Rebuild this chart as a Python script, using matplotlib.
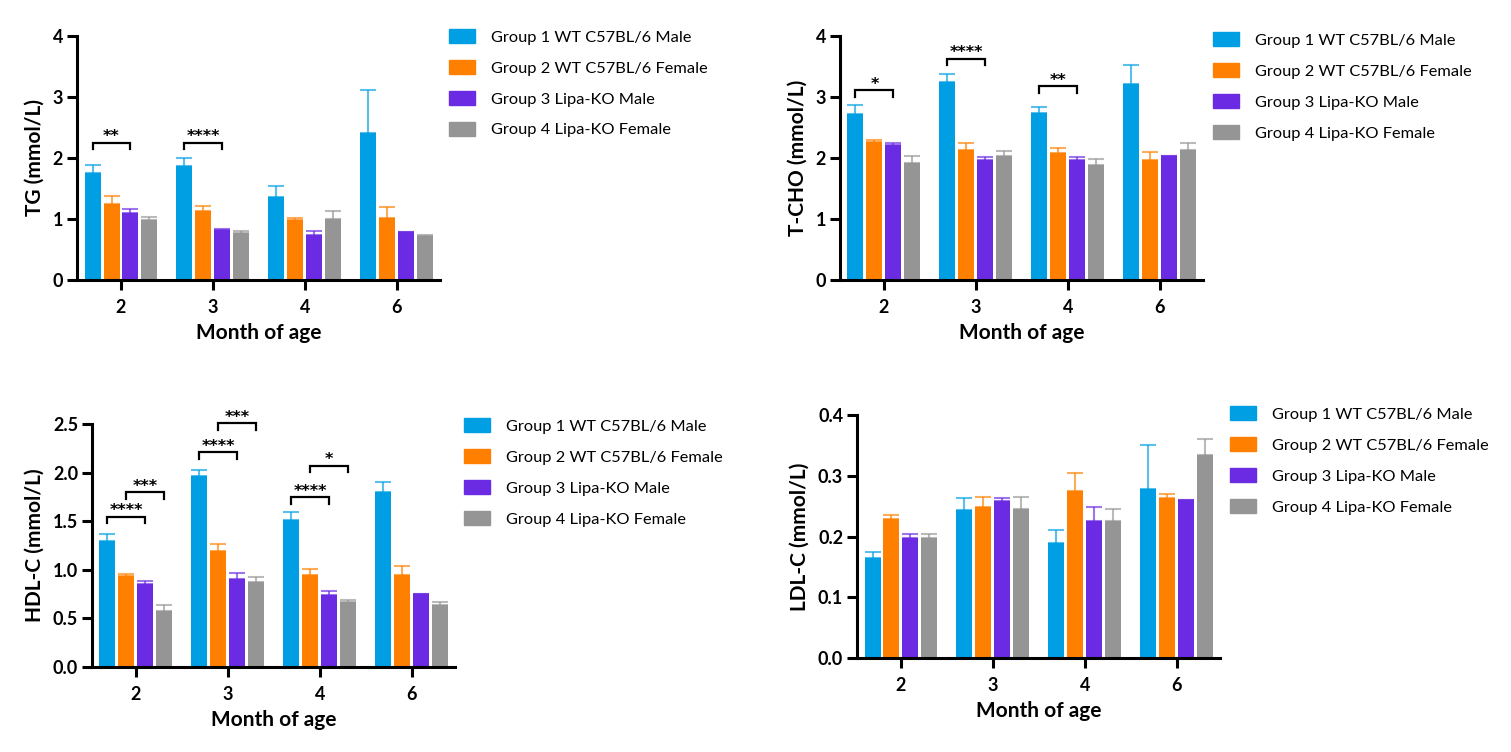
import matplotlib
matplotlib.use('Agg')
import matplotlib.pyplot as plt
from matplotlib.patches import Patch
import numpy as np

plt.rcParams['font.family'] = ['Lato', 'DejaVu Sans']

months = ['2', '3', '4', '6']
groups = ['Group 1 WT C57BL/6 Male', 'Group 2 WT C57BL/6 Female',
          'Group 3 Lipa-KO Male', 'Group 4 Lipa-KO Female']
colors = ['#009FE3', '#FF8000', '#6A2BE3', '#959595']

# mean values per group (rows) and month (columns), upper error bar tops
tg_mean = [[1.75, 1.87, 1.36, 2.41],
           [1.25, 1.13, 0.98, 1.02],
           [1.10, 0.82, 0.74, 0.79],
           [0.98, 0.77, 1.00, 0.72]]
tg_top = [[1.89, 2.00, 1.54, 3.12],
          [1.37, 1.22, 1.02, 1.19],
          [1.16, 0.84, 0.80, 0.79],
          [1.03, 0.81, 1.13, 0.73]]

tcho_mean = [[2.72, 3.24, 2.73, 3.21],
             [2.26, 2.13, 2.08, 1.96],
             [2.21, 1.96, 1.96, 2.03],
             [1.91, 2.03, 1.88, 2.13]]
tcho_top = [[2.87, 3.37, 2.84, 3.53],
            [2.30, 2.25, 2.17, 2.09],
            [2.25, 2.01, 2.02, 2.03],
            [2.03, 2.12, 1.98, 2.25]]

hdl_mean = [[1.30, 1.97, 1.51, 1.80],
            [0.94, 1.19, 0.95, 0.95],
            [0.85, 0.91, 0.74, 0.75],
            [0.58, 0.87, 0.67, 0.64]]
hdl_top = [[1.37, 2.03, 1.59, 1.90],
           [0.96, 1.27, 1.01, 1.04],
           [0.88, 0.97, 0.78, 0.75],
           [0.64, 0.93, 0.69, 0.67]]

ldl_mean = [[0.164, 0.243, 0.189, 0.279],
            [0.229, 0.248, 0.275, 0.263],
            [0.197, 0.258, 0.225, 0.260],
            [0.197, 0.245, 0.226, 0.334]]
ldl_top = [[0.175, 0.264, 0.211, 0.350],
           [0.236, 0.265, 0.304, 0.270],
           [0.204, 0.264, 0.249, 0.260],
           [0.204, 0.265, 0.246, 0.360]]

# significance brackets: (month index, group a, group b, height, label)
tg_sig = [(0, 0, 2, 2.25, '**'), (1, 0, 2, 2.25, '****')]
tcho_sig = [(0, 0, 2, 3.11, '*'), (1, 0, 2, 3.63, '****'), (2, 0, 2, 3.18, '**')]
hdl_sig = [(0, 0, 2, 1.545, '****'), (0, 1, 3, 1.80, '***'),
           (1, 0, 2, 2.21, '****'), (1, 1, 3, 2.51, '***'),
           (2, 0, 2, 1.75, '****'), (2, 1, 3, 2.07, '*')]
ldl_sig = []

step = 0.2065
width = 0.174


def panel(rect, mean, top, ylabel, ymax, yticks, ylabels, sig, leg_xy):
    ax = fig.add_axes(rect)
    x = np.arange(len(months))
    for i in range(4):
        pos = x + (i - 1.5) * step
        m = np.array(mean[i])
        err = np.array(top[i]) - m
        ax.bar(pos, m, width, color=colors[i], zorder=2)
        ax.errorbar(pos, m, yerr=[np.zeros_like(err), err], fmt='none',
                    ecolor=colors[i], alpha=0.65, elinewidth=1.5,
                    capsize=5.5, capthick=1.5, zorder=1)
    leg = 0.027 * ymax
    for mi, a, b, h, lab in sig:
        xa = mi + (a - 1.5) * step
        xb = mi + (b - 1.5) * step
        ax.plot([xa, xa, xb, xb], [h - leg, h, h, h - leg], color='black',
                lw=1.6, clip_on=False, solid_joinstyle='miter')
        ax.annotate(lab, ((xa + xb) / 2, h), xytext=(0, 1),
                    textcoords='offset points', ha='center', va='baseline',
                    fontsize=11.5, fontweight='bold', family='DejaVu Sans',
                    annotation_clip=False)
    ax.set_xlim(-0.478, 3.47)
    ax.set_ylim(0, ymax)
    ax.set_xticks(x)
    ax.set_xticklabels(months, fontsize=13, fontweight='bold')
    ax.set_yticks(yticks)
    ax.set_yticklabels(ylabels, fontsize=13, fontweight='bold')
    ax.set_xlabel('Month of age', fontsize=15, fontweight='bold', labelpad=5)
    ax.set_ylabel(ylabel, fontsize=15, fontweight='bold', labelpad=6)
    for s in ['top', 'right']:
        ax.spines[s].set_visible(False)
    for s in ['left', 'bottom']:
        ax.spines[s].set_linewidth(2.2)
    ax.tick_params(width=2.2, length=7)
    ax.tick_params(axis='x', pad=7)
    ax.tick_params(axis='y', pad=3)
    handles = [Patch(color=c) for c in colors]
    ax.legend(handles, groups, loc='upper left', bbox_to_anchor=leg_xy,
              bbox_transform=fig.transFigure, frameon=False, fontsize=11.8,
              handlelength=1.6, handleheight=0.95, handletextpad=0.95,
              labelspacing=0.93, borderpad=0, borderaxespad=0)
    return ax


fig = plt.figure(figsize=(15.11, 7.52), dpi=100)

panel([0.051, 0.6277, 0.2402, 0.3245], tg_mean, tg_top, 'TG (mmol/L)', 4,
      [0, 1, 2, 3, 4], ['0', '1', '2', '3', '4'], tg_sig, (0.2971, 0.9615))
panel([0.5559, 0.6277, 0.2402, 0.3245], tcho_mean, tcho_top, 'T-CHO (mmol/L)', 4,
      [0, 1, 2, 3, 4], ['0', '1', '2', '3', '4'], tcho_sig, (0.8028, 0.9574))
panel([0.0609, 0.113, 0.2402, 0.3231], hdl_mean, hdl_top, 'HDL-C (mmol/L)', 2.5,
      [0, 0.5, 1.0, 1.5, 2.0, 2.5], ['0.0', '0.5', '1.0', '1.5', '2.0', '2.5'],
      hdl_sig, (0.3071, 0.4441))
panel([0.5672, 0.125, 0.2402, 0.3231], ldl_mean, ldl_top, 'LDL-C (mmol/L)', 0.4,
      [0, 0.1, 0.2, 0.3, 0.4], ['0.0', '0.1', '0.2', '0.3', '0.4'],
      ldl_sig, (0.814, 0.460))

fig.savefig('out.png', dpi=100)
